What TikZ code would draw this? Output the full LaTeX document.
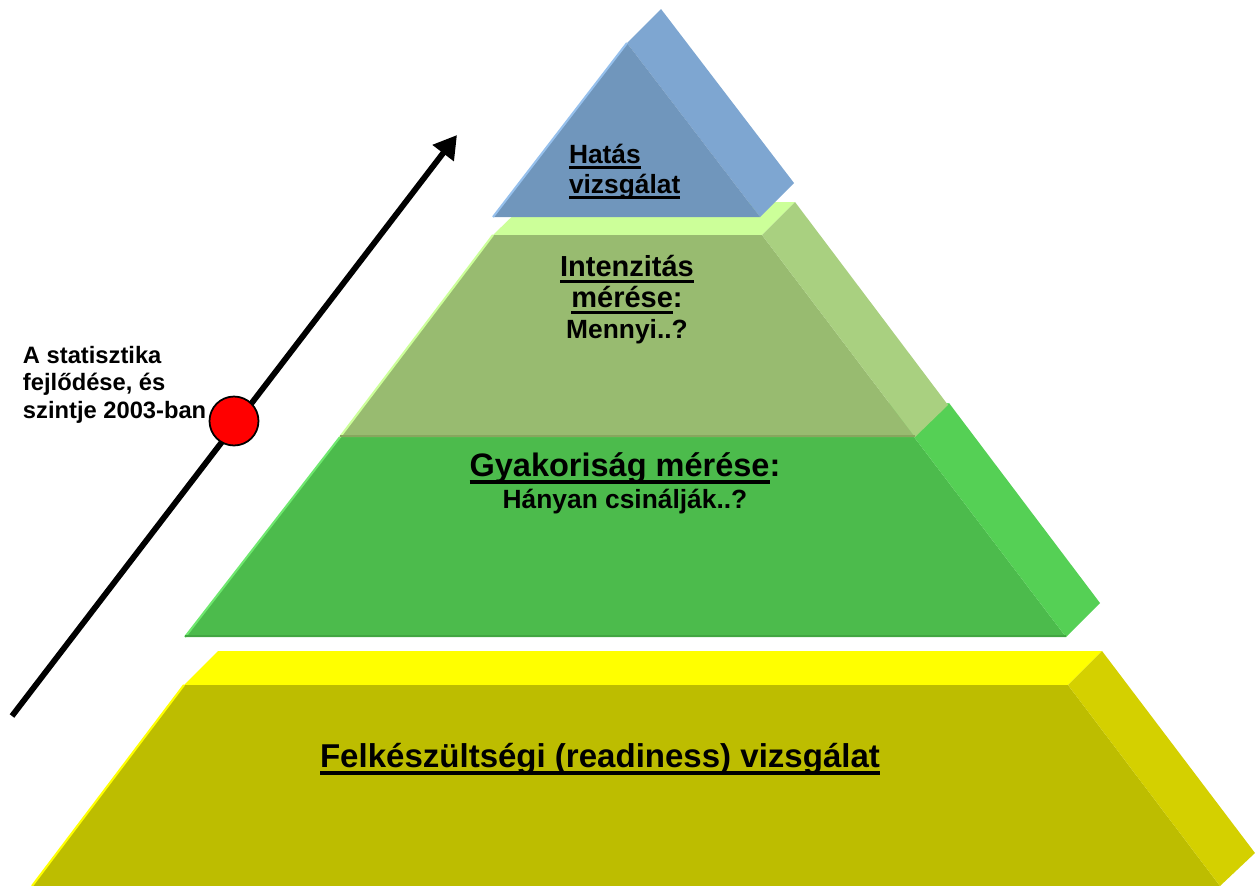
\documentclass[tikz,border=0pt]{standalone}
\usepackage{fontspec}
\setmainfont{Liberation Sans}
\usetikzlibrary{arrows.meta}
\definecolor{hatasFront}{RGB}{112,150,188}
\definecolor{hatasSide}{RGB}{126,166,209}
\definecolor{hatasEdge}{RGB}{150,192,236}
\definecolor{intenzTop}{RGB}{204,255,153}
\definecolor{intenzFront}{RGB}{152,187,112}
\definecolor{intenzSide}{RGB}{169,208,128}
\definecolor{intenzEdge}{RGB}{136,166,94}
\definecolor{gyakTop}{RGB}{110,232,110}
\definecolor{gyakFront}{RGB}{76,187,76}
\definecolor{gyakSide}{RGB}{85,208,85}
\definecolor{gyakEdge}{RGB}{66,166,66}
\definecolor{readyTop}{RGB}{255,255,0}
\definecolor{readyFront}{RGB}{189,189,0}
\definecolor{readySide}{RGB}{212,208,0}
\newcommand{\undl}[1]{\setbox0=\hbox{#1}\rlap{\copy0}\rule[-0.24em]{\wd0}{0.12em}}

\begin{document}
\begin{tikzpicture}[
  x=0.02cm, y=-0.02cm,
  lbl/.style={inner sep=0pt, outer sep=0pt, align=center},
  edge/.style={line width=1.2pt},
  rise/.style={line width=3.3pt, -{Triangle[length=13pt,width=14.5pt]}}
]
\useasboundingbox (0,0) rectangle (1255,886);
\fill[readyTop] (184,685) -- (218,651) -- (1102,651) -- (1068,685) -- cycle;
\fill[readyFront] (184,685) -- (1068,685) -- (1220,886) -- (32,886) -- cycle;
\fill[readySide] (1068,685) -- (1102,651) -- (1255,853) -- (1220,886) -- cycle;
\draw[readyTop, edge] (32,886) -- (184,685);
\fill[gyakTop] (340,437) -- (374,403) -- (949,403) -- (914,437) -- cycle;
\fill[gyakFront] (340,437) -- (914,437) -- (1066,637) -- (185,637) -- cycle;
\fill[gyakSide] (914,437) -- (949,403) -- (1100,603) -- (1066,637) -- cycle;
\draw[gyakTop, edge] (185,637) -- (340,437);
\draw[gyakEdge, edge] (185,636) -- (1066,636);
\fill[intenzTop] (493,235) -- (527,202) -- (795,202) -- (762,235) -- cycle;
\fill[intenzFront] (493,235) -- (762,235) -- (915,437) -- (340,437) -- cycle;
\fill[intenzSide] (762,235) -- (795,202) -- (948,405) -- (915,437) -- cycle;
\draw[intenzTop, edge] (340,437) -- (493,235);
\draw[intenzEdge, edge] (340,436) -- (915,436);
\fill[hatasSide] (627,43) -- (661,9) -- (794,183) -- (760,217) -- cycle;
\fill[hatasFront] (493,217) -- (760,217) -- (627,43) -- cycle;
\draw[hatasEdge, edge] (493,217) -- (627,43);
\coordinate (tail) at (12,716);
\coordinate (head) at (457,135);
\draw[rise] (tail) -- (head);
\node[circle, fill=red, draw=black, line width=1pt, minimum size=0.98cm, inner sep=0pt] (level) at (234,421) {};
\node[lbl, anchor=base west, align=left, font=\bfseries\fontsize{13.5}{15.6}\selectfont] (trend) at (23,418) {A statisztika\\fejlődése, és\\szintje 2003-ban};
\node[lbl, anchor=base west, align=left, font=\bfseries\fontsize{15}{17}\selectfont] (hatas) at (569,193) {\undl{Hatás}\\\undl{vizsgálat}};
\node[lbl, anchor=base, font=\bfseries\fontsize{16.5}{17.6}\selectfont] (intenz) at (627,338) {\undl{Intenzitás}\\\undl{mérése}:\\{\fontsize{15}{17.6}\selectfont Mennyi..?}};
\node[lbl, anchor=base, font=\bfseries\fontsize{18.5}{18}\selectfont] (gyak) at (625,508) {\undl{Gyakoriság mérése}:\\{\fontsize{15}{18}\selectfont Hányan csinálják..?}};
\node[lbl, anchor=base, font=\bfseries\fontsize{18.8}{20}\selectfont] (ready) at (600,767) {\undl{Felkészültségi (readiness) vizsgálat}};
\end{tikzpicture}
\end{document}
